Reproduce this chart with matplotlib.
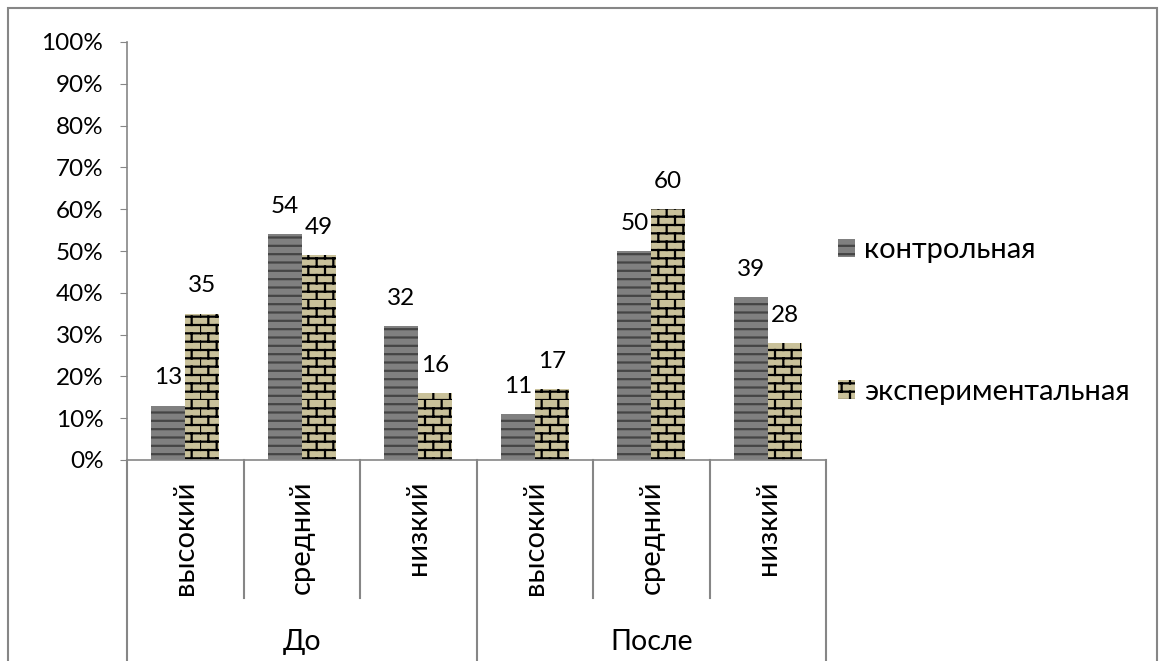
import warnings
import matplotlib
matplotlib.use("Agg")
import matplotlib.pyplot as plt
import matplotlib.transforms as mtransforms
from matplotlib import hatch as mhatch
from matplotlib.path import Path
from matplotlib.patches import Patch, Rectangle

warnings.filterwarnings("ignore")

groups = ["До", "После"]
levels = ["высокий", "средний", "низкий"]
series = ["контрольная", "экспериментальная"]
control = [13, 54, 32, 11, 50, 39]
experimental = [35, 49, 16, 17, 60, 28]
yticks = [0, 10, 20, 30, 40, 50, 60, 70, 80, 90, 100]


class BrickHatch(mhatch.HatchPatternBase):
    """Brick wall hatch, picked with the 'b' character."""

    def __init__(self, hatch, density):
        self.rows = hatch.count("b") * 12
        self.cols = 6
        self.num_vertices = self.rows * 2 * (1 + self.cols)

    def set_vertices_and_codes(self, vertices, codes):
        h = 1.0 / self.rows
        w = 1.0 / self.cols
        k = 0
        for r in range(self.rows):
            y = r * h
            vertices[k] = (0.0, y)
            vertices[k + 1] = (1.0, y)
            codes[k] = Path.MOVETO
            codes[k + 1] = Path.LINETO
            k += 2
            shift = w / 2 if r % 2 else 0.0
            for c in range(self.cols):
                x = c * w + shift
                vertices[k] = (x, y)
                vertices[k + 1] = (x, y + h)
                codes[k] = Path.MOVETO
                codes[k + 1] = Path.LINETO
                k += 2


mhatch._hatch_types.append(BrickHatch)

plt.rcParams["font.family"] = ["Lato", "DejaVu Sans"]
plt.rcParams["hatch.linewidth"] = 1.6

GRAY = "#868686"
CTRL_FILL, CTRL_LINE = "#808080", "#454545"
EXP_FILL, EXP_LINE = "#c9c19a", "#000000"

fig = plt.figure(figsize=(11.6, 6.61), dpi=100)
ax = fig.add_axes([127 / 1160, 1 - 460 / 661, 699 / 1160, 418 / 661])

# outer chart frame
fig.patches.append(Rectangle((8 / 1160, -0.1), 1149 / 1160, 1.1 - 8 / 661,
                             transform=fig.transFigure, fill=False,
                             edgecolor=GRAY, linewidth=1.5))

n = len(control)
x = list(range(n))
bw = 0.29
ax.bar([i - bw / 2 for i in x], control, bw, color=CTRL_FILL,
       edgecolor=CTRL_LINE, linewidth=0, hatch="--")
ax.bar([i + bw / 2 for i in x], experimental, bw, color=EXP_FILL,
       edgecolor=EXP_LINE, linewidth=0, hatch="b")

for i in x:
    ax.annotate(str(control[i]), (i - bw / 2, control[i]),
                xytext=(0, 20), textcoords="offset points",
                ha="center", va="center", fontsize=17.5)
    ax.annotate(str(experimental[i]), (i + bw / 2, experimental[i]),
                xytext=(0, 20), textcoords="offset points",
                ha="center", va="center", fontsize=17.5)

ax.set_xlim(-0.5, n - 0.5)
ax.set_ylim(0, 100)
ax.set_yticks(yticks)
ax.set_yticklabels([f"{v}%" for v in yticks])
ax.set_xticks([])
ax.tick_params(axis="y", direction="out", length=5, color=GRAY,
               labelsize=17.5, pad=12)
for s in ["top", "right"]:
    ax.spines[s].set_visible(False)
for s in ["left", "bottom"]:
    ax.spines[s].set_color(GRAY)
    ax.spines[s].set_linewidth(1.2)

# two-level category axis
trans = mtransforms.blended_transform_factory(ax.transData, ax.transAxes)
for b in range(n + 1):
    edge = b - 0.5
    bottom = -0.5 if b % len(levels) == 0 else -0.33
    ax.plot([edge, edge], [0, bottom], color=GRAY, lw=1.5,
            transform=trans, clip_on=False)
for i in x:
    ax.text(i, -0.05, levels[i % len(levels)], transform=trans,
            rotation=90, ha="center", va="top", fontsize=21)
for g, name in enumerate(groups):
    mid = g * len(levels) + (len(levels) - 1) / 2
    ax.text(mid, -0.435, name, transform=trans, ha="center", va="center",
            fontsize=20.5)

handles = [Patch(facecolor=CTRL_FILL, edgecolor=CTRL_LINE, linewidth=0,
                 hatch="--"),
           Patch(facecolor=EXP_FILL, edgecolor=EXP_LINE, linewidth=0,
                 hatch="b")]
fig.legend(handles, series, loc="center left",
           bbox_to_anchor=(826 / 1160, 1 - 321 / 661), frameon=False,
           fontsize=21, handlelength=0.6, handleheight=0.6,
           handletextpad=0.3, labelspacing=3.95, borderaxespad=0)

fig.savefig("out.png", dpi=100)
